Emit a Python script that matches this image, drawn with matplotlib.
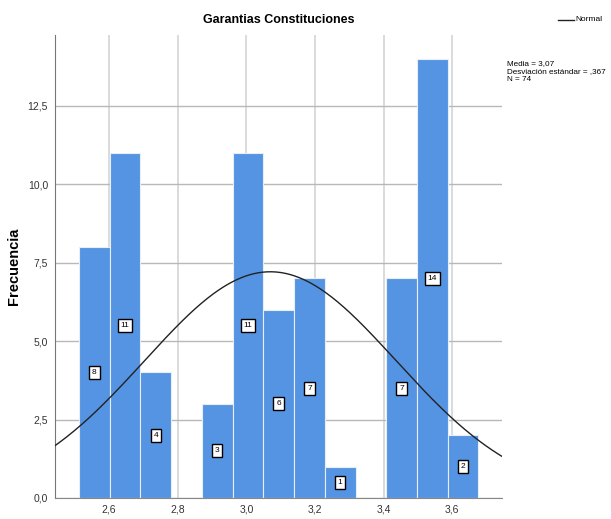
import numpy as np
import matplotlib.pyplot as plt

# datos del histograma
counts = [8, 11, 4, 0, 3, 11, 6, 7, 1, 0, 7, 14, 2]
bin_start = 2.512
bin_width = 0.0896
media = 3.07
desv = 0.367
n = 74
xticks = [2.6, 2.8, 3.0, 3.2, 3.4, 3.6]
xtick_labels = ['2,6', '2,8', '3,0', '3,2', '3,4', '3,6']
yticks = [0, 2.5, 5.0, 7.5, 10.0, 12.5]
ytick_labels = ['0,0', '2,5', '5,0', '7,5', '10,0', '12,5']

plt.rcParams['font.family'] = ['Liberation Sans', 'DejaVu Sans']

fig = plt.figure(figsize=(6.11, 5.19), dpi=100)
ax = fig.add_axes([0.09, 0.0405, 0.7316, 0.892])

edges = bin_start + bin_width * np.arange(len(counts))
ax.bar(edges, counts, width=bin_width, align='edge', color='#5594e2',
       edgecolor='#e8eef8', linewidth=0.8, zorder=2)

for x, c in zip(edges, counts):
    if c == 0:
        continue
    ax.text(x + bin_width / 2, c / 2, str(c), ha='center', va='center', fontsize=6,
            zorder=4, bbox=dict(boxstyle='square,pad=0.35', fc='white', ec='black', lw=1))

# curva normal
xs = np.linspace(2.442, 3.7455, 300)
ys = n * bin_width * np.exp(-0.5 * ((xs - media) / desv) ** 2) / (desv * np.sqrt(2 * np.pi))
ax.plot(xs, ys, color='#222222', lw=1, zorder=3)

ax.set_xlim(2.442, 3.7455)
ax.set_ylim(0, 14.75)
ax.set_xticks(xticks)
ax.set_xticklabels(xtick_labels)
ax.set_yticks(yticks)
ax.set_yticklabels(ytick_labels)
ax.tick_params(length=0, labelsize=7.5, colors='#333333', pad=5)
ax.grid(axis='x', color='#d4d4d4', lw=1.2, zorder=1)
ax.grid(axis='y', color='#b8b8b8', lw=1, zorder=1)
for s in ['top', 'right']:
    ax.spines[s].set_visible(False)
ax.spines['left'].set_color('#777777')
ax.spines['bottom'].set_color('#888888')

ax.set_ylabel('Frecuencia', fontsize=10.5, fontweight='bold')
ax.yaxis.set_label_coords(-0.077, 0.5)
ax.set_title('Garantias Constituciones', fontsize=9, fontweight='bold', pad=9)

fig.lines.append(plt.Line2D([0.913, 0.94], [0.962, 0.962], color='#222222', lw=1, transform=fig.transFigure))
fig.text(0.942, 0.962, 'Normal', fontsize=6, va='center')
fig.text(0.83, 0.884, 'Media = 3,07\nDesviación estándar = ,367\nN = 74', fontsize=5.9,
         va='top', linespacing=1.15)

fig.savefig('out.png')
